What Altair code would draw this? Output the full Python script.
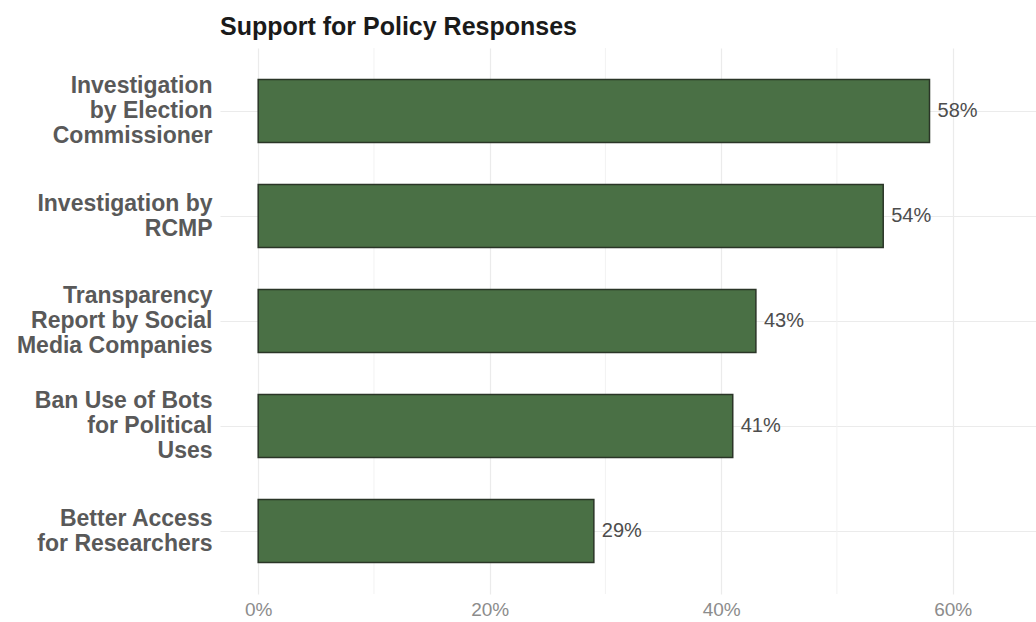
import altair as alt
import pandas as pd

categories = [
    "Investigation by Election Commissioner",
    "Investigation by RCMP",
    "Transparency Report by Social Media Companies",
    "Ban Use of Bots for Political Uses",
    "Better Access for Researchers",
]
label_lines = [
    "Investigation|by Election|Commissioner",
    "Investigation by|RCMP",
    "Transparency|Report by Social|Media Companies",
    "Ban Use of Bots|for Political|Uses",
    "Better Access|for Researchers",
]
values = [0.58, 0.54, 0.43, 0.41, 0.29]
value_text = ["58%", "54%", "43%", "41%", "29%"]

df = pd.DataFrame({"category": categories, "lines": label_lines,
                   "value": values, "text": value_text})

FONT = "Liberation Sans"
LINE_H = 25

label_map = "{" + ", ".join(f"'{c}': '{l}'" for c, l in zip(categories, label_lines)) + "}"
offset_map = "{" + ", ".join(
    f"'{c}': {-(l.count('|')) * LINE_H / 2}" for c, l in zip(categories, label_lines)) + "}"

y_enc = alt.Y("category:N", sort=categories, title=None,
              scale=alt.Scale(paddingInner=0.4, paddingOuter=0.3),
              axis=alt.Axis(domain=False, ticks=False, labelPadding=8,
                            labelFontSize=23, labelFont=FONT, labelFontWeight="bold",
                            labelColor="#595959", labelLineHeight=LINE_H,
                            labelLimit=300,
                            labelOffset={"expr": offset_map + "[datum.value]"},
                            labelExpr="split(" + label_map + "[datum.label], '|')",
                            grid=True, gridColor="#ebebeb", gridWidth=1))

x_scale = alt.Scale(domain=[-0.033, 0.672], nice=False, zero=False)

grid_minor = alt.Chart(pd.DataFrame({"v": [0.1, 0.3, 0.5]})).mark_rule(
    color="#f2f2f2", strokeWidth=1).encode(x=alt.X("v:Q", scale=x_scale))

bars = alt.Chart(df).mark_bar(color="#4a7045", stroke="#2a3527", strokeWidth=1.5).encode(
    x=alt.X("value:Q", scale=x_scale, title=None,
            axis=alt.Axis(values=[0, 0.2, 0.4, 0.6], format=".0%", domain=False, ticks=False,
                          labelFontSize=19, labelFont=FONT, labelColor="#8c8c8c",
                          labelPadding=6, grid=True, gridColor="#ebebeb", gridWidth=1.2)),
    y=y_enc,
)

labels = alt.Chart(df).mark_text(align="left", baseline="middle", dx=8, fontSize=20,
                                 font=FONT, color="#4d4d4d").encode(
    x=alt.X("value:Q", scale=x_scale),
    y=alt.Y("category:N", sort=categories),
    text="text:N",
)

chart = alt.layer(grid_minor, bars, labels).properties(
    width=816, height=546,
    background="white",
    title=alt.TitleParams("Support for Policy Responses", anchor="start", fontSize=25,
                          font=FONT, fontWeight="bold", color="#1a1a1a", offset=8,
                          frame="group"),
    autosize=alt.AutoSizeParams(type="none"),
    padding={"left": 220, "top": 48, "right": 0, "bottom": 28},
).configure_view(strokeWidth=0, stroke="transparent").configure_axis(domain=False)

chart.save("out.html", embed_options={"renderer": "svg", "actions": False})
